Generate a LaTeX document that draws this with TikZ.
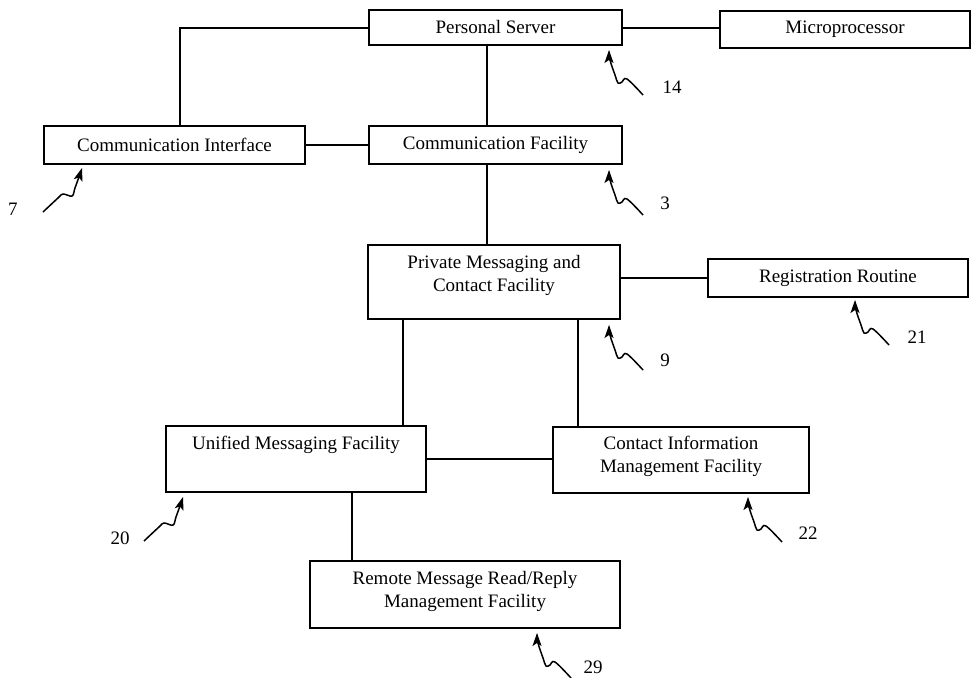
\documentclass[tikz,border=0pt]{standalone}
\usepackage{fontspec}
\setmainfont{Liberation Serif}
\usetikzlibrary{arrows.meta}
\begin{document}
\begin{tikzpicture}[x=1pt,y=-1pt,
  box/.style={draw, line width=1.5pt, inner sep=0pt},
  txt/.style={font=\fontsize{19}{23}\selectfont, align=center, inner sep=0pt},
  conn/.style={line width=1.4pt},
  refarrow/.style={line width=1.5pt, -{Stealth[length=13pt,width=9pt,inset=3pt]}},
  reflabel/.style={font=\fontsize{19}{23}\selectfont, inner sep=0pt}]
\useasboundingbox (0,0) rectangle (973,677);

% boxes
\node[box, txt, minimum width=253pt, minimum height=35pt] (ps) at (495.5,27.5) {Personal Server};
\node[box, txt, minimum width=250pt, minimum height=37pt] (mp) at (845,29.5) {Microprocessor};
\node[box, txt, minimum width=261pt, minimum height=38pt] (ci) at (174.5,145) {Communication Interface};
\node[box, txt, minimum width=253pt, minimum height=38pt] (cf) at (495.5,145) {Communication Facility};
\node[box, minimum width=252pt, minimum height=74pt] (pm) at (494,282) {};
\node[txt] (pmt) at (494,275) {Private Messaging and\\Contact Facility};
\node[box, txt, minimum width=260pt, minimum height=38pt] (rr) at (838,278) {Registration Routine};
\node[box, minimum width=260pt, minimum height=66pt] (um) at (296,459) {};
\node[txt] (umt) at (296,445) {Unified Messaging Facility};
\node[box, minimum width=256pt, minimum height=66pt] (cm) at (681,460) {};
\node[txt] (cmt) at (681,456) {Contact Information\\Management Facility};
\node[box, minimum width=310pt, minimum height=67pt] (rm) at (465,594.5) {};
\node[txt] (rmt) at (465,591) {Remote Message Read/Reply\\Management Facility};

% connector attachment points
\coordinate (psb) at ([xshift=-8.5pt]ps.south);
\coordinate (cfb) at ([xshift=-8.5pt]cf.south);
\coordinate (pmbl) at ([xshift=-91pt]pm.south);
\coordinate (pmbr) at ([xshift=84pt]pm.south);
\coordinate (umb) at ([xshift=56pt]um.south);
\coordinate (cit) at ([xshift=5.5pt]ci.north);
\coordinate (psw) at ([yshift=-0.5pt]ps.west);
\coordinate (mpw) at ([yshift=1.5pt]mp.west);

% connectors
\draw[conn] (psw) -| (cit);
\draw[conn] (mpw -| ps.east) -- (mpw);
\draw[conn] (psb) -- (psb |- cf.north);
\draw[conn] (ci.east) -- (ci.east -| cf.west);
\draw[conn] (cfb) -- (cfb |- pm.north);
\draw[conn] (rr.west -| pm.east) -- (rr.west);
\draw[conn] (pmbl) -- (pmbl |- um.north);
\draw[conn] (pmbr) -- (pmbr |- cm.north);
\draw[conn] (um.east) -- (um.east -| cm.west);
\draw[conn] (umb) -- (umb |- rm.north);

% reference arrows
\coordinate (a14) at (609,50);
\coordinate (a3) at (609,170);
\coordinate (a9) at (609,325);
\coordinate (a21) at (855,300);
\coordinate (a22) at (748,497);
\coordinate (a29) at (537,633);
\coordinate (a7) at (82,168);
\coordinate (a20) at (183,497);
\foreach \t in {a14,a3,a9,a21,a22,a29}{
  \draw[refarrow, shift={(\t)}] plot[smooth, tension=0.6] coordinates {(34,45) (18,29) (13,32) (9,33) (6,25) (1,10) (0,0)};
}
\foreach \t in {a7,a20}{
  \draw[refarrow, shift={(\t)}] plot[smooth, tension=0.6] coordinates {(-39,44) (-24,30) (-19,26) (-10,28) (-7,20) (-2,6) (0,0)};
}

% reference labels
\node[reflabel] (l14) at (672,87) {14};
\node[reflabel] (l3) at (665,203) {3};
\node[reflabel] (l9) at (665,360) {9};
\node[reflabel] (l21) at (917,337) {21};
\node[reflabel] (l22) at (808,533) {22};
\node[reflabel] (l29) at (593,667) {29};
\node[reflabel] (l7) at (13,209) {7};
\node[reflabel] (l20) at (120,538) {20};
\end{tikzpicture}
\end{document}
